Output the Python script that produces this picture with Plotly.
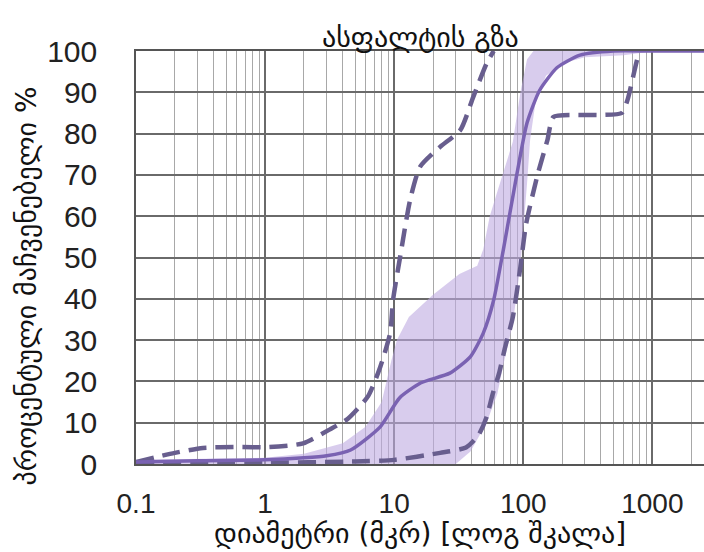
import plotly.graph_objects as go

# ---- data ----
median_x = [0.1, 0.3, 1, 2, 3, 4.6, 7.8, 11, 16, 27, 39, 49, 59, 70, 89, 107, 134, 183, 275, 500, 1000, 3000]
median_y = [0.5, 0.8, 1, 1.5, 2, 3.4, 9, 16, 19.6, 22, 26, 31.7, 39.7, 51.8, 70, 82.6, 90.5, 96, 99, 100, 100, 100]

upper_x = [0.1, 0.2, 0.33, 0.6, 1.07, 1.97, 3.1, 4.4, 6.3, 7.8, 9.3, 9.8, 11.1, 13.3, 15.9, 22.7, 32.6, 41, 52, 59]
upper_y = [0.5, 2.7, 3.9, 4.1, 4.1, 5, 8.2, 11, 16.5, 23.5, 31.7, 39.7, 50, 64, 72, 76.8, 80.9, 88.9, 97, 100]

lower_x = [0.1, 1, 5, 10, 22.7, 36, 45, 52, 58, 65, 72, 83, 95, 105, 129, 154, 171, 250, 400, 580, 640, 760, 800]
lower_y = [0, 0.3, 0.6, 1, 2.7, 4, 7, 11.4, 17, 22, 28, 35.6, 47.7, 58, 70, 78.5, 84, 84.5, 84.5, 85, 88, 97.8, 100]

band_top_x = [0.1, 1, 2, 4, 6, 8, 9.5, 10.5, 13, 20, 32, 44, 49, 55, 63, 72, 83, 95, 107, 120, 3000]
band_top_y = [1, 1.5, 2.5, 5, 9, 15, 25, 30, 35.6, 41, 46, 48, 52, 60, 66, 72, 78, 90, 98, 100, 100]

band_bot_x = [0.1, 30, 39, 52, 63, 70, 83, 95, 107, 113, 125, 150, 200, 300, 600, 800, 1000, 3000]
band_bot_y = [0, 0, 3, 10, 17, 24, 34, 48, 68, 78.5, 88, 94, 97, 98.5, 99, 99.5, 100, 100]

x_ticks = [0.1, 1, 10, 100, 1000]
x_tick_labels = ["0.1", "1", "10", "100", "1000"]
y_ticks = [0, 10, 20, 30, 40, 50, 60, 70, 80, 90, 100]

title_text = "ასფალტის გზა"
x_title = "დიამეტრი (მკრ) [ლოგ შკალა]"
y_title = "პროცენტული მაჩვენებელი %"

# ---- styling ----
SOLID = "rgb(122,98,178)"
DASH = "rgb(104,94,142)"
BAND = "rgba(190,170,225,0.6)"
GEO_FONT = "DejaVu Sans"
NUM_FONT = "Liberation Sans, Arial"

minor_vals = [m * 10 ** e for e in range(-1, 4) for m in range(2, 10)]

fig = go.Figure()

# shaded band as closed polygon
fig.add_trace(go.Scatter(
    x=band_top_x + band_bot_x[::-1],
    y=band_top_y + band_bot_y[::-1],
    mode="lines", fill="toself", fillcolor=BAND,
    line=dict(width=0), hoverinfo="skip", showlegend=False))

fig.add_trace(go.Scatter(x=upper_x, y=upper_y, mode="lines",
                         line=dict(color=DASH, width=4.5, dash="18px,9px", shape="spline", smoothing=0.6),
                         showlegend=False))
fig.add_trace(go.Scatter(x=lower_x, y=lower_y, mode="lines",
                         line=dict(color=DASH, width=4.5, dash="18px,9px", shape="spline", smoothing=0.6),
                         showlegend=False))
fig.add_trace(go.Scatter(x=median_x, y=median_y, mode="lines",
                         line=dict(color=SOLID, width=3.5, shape="spline", smoothing=0.6),
                         showlegend=False))

fig.update_layout(
    width=704, height=552,
    margin=dict(l=136, r=0, t=51, b=88),
    paper_bgcolor="white", plot_bgcolor="white",
    showlegend=False,
    annotations=[
        dict(text=title_text, xref="paper", yref="paper", x=0.5, y=1, yshift=14,
             xanchor="center", yanchor="middle", showarrow=False,
             font=dict(family=GEO_FONT, size=28, color="#111")),
        dict(text=x_title, xref="paper", yref="paper", x=0.5, y=0, yshift=-69,
             xanchor="center", yanchor="middle", showarrow=False,
             font=dict(family=GEO_FONT, size=28, color="#111")),
        dict(text=y_title, xref="paper", yref="paper", x=0, xshift=-110, y=0.43,
             xanchor="center", yanchor="middle", showarrow=False, textangle=-90,
             font=dict(family=GEO_FONT, size=28, color="#111")),
    ],
)

fig.update_xaxes(
    type="log", range=[-1, 3.4],
    tickmode="array", tickvals=x_ticks, ticktext=x_tick_labels,
    ticks="", ticklabelstandoff=14,
    tickfont=dict(family=NUM_FONT, size=28, color="#222"),
    showgrid=True, gridcolor="#6a6a6a", gridwidth=1.5,
    minor=dict(tickmode="array", tickvals=minor_vals, showgrid=True,
               gridcolor="#a8a8a8", gridwidth=1, ticks=""),
    showline=True, linecolor="#555", linewidth=1.5, mirror=True,
    zeroline=False, automargin=False,
)
fig.update_yaxes(
    range=[0, 100],
    tickmode="array", tickvals=y_ticks,
    ticks="", ticklabelstandoff=31,
    tickfont=dict(family=NUM_FONT, size=30, color="#222"),
    showgrid=True, gridcolor="#6a6a6a", gridwidth=1.5,
    showline=True, linecolor="#555", linewidth=1.5, mirror=True,
    zeroline=False, automargin=False,
)

fig.write_html(
    "out.html",
    config={"displayModeBar": False},
    post_script="document.body.style.margin='0';document.body.style.overflow='hidden';",
)
